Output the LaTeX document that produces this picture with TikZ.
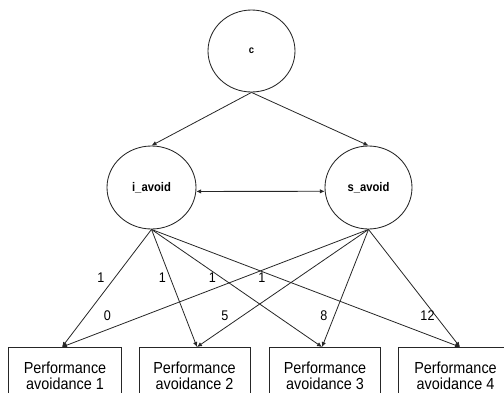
\documentclass[tikz,border=0pt]{standalone}
\usepackage{fontspec}
\setmainfont{Liberation Sans}
\newfontfamily\narrowsans[FakeStretch=0.9]{Liberation Sans}
\usetikzlibrary{shapes.geometric,arrows.meta,calc}
\begin{document}
\begin{tikzpicture}[x=1pt,y=-1pt,
  latent/.style={ellipse,draw=black!85,line width=0.85pt,inner sep=0pt,
    font=\narrowsans\bfseries\fontsize{12.5}{15}\selectfont},
  indicator/.style={rectangle,draw=black!85,line width=0.85pt,anchor=north,
    minimum width=111pt,minimum height=80pt,inner sep=0pt},
  boxline/.style={font=\narrowsans\fontsize{16}{19}\selectfont,anchor=base,inner sep=0pt},
  coef/.style={font=\narrowsans\fontsize{14}{16}\selectfont,inner sep=0pt},
  tip/.tip={Latex[length=5pt,width=4.5pt]},
  link/.style={draw=black!85,line width=0.8pt,-tip},
  ]
\useasboundingbox (0,0) rectangle (504,392);
\clip (0,0) rectangle (504,392);

% latent factors
\node[latent,minimum width=87pt,minimum height=82pt,
  font=\narrowsans\bfseries\fontsize{10.5}{12}\selectfont] (c) at (251.5,51) {c};
\node[latent,minimum width=89pt,minimum height=83pt] (ia) at (151.5,187.5) {i\_avoid};
\node[latent,minimum width=87pt,minimum height=83pt] (sa) at (368.5,187.5) {s\_avoid};

% observed indicators
\node[indicator,minimum width=113pt] (b1) at (64.5,347) {};
\node[indicator] (b2) at (194.5,347) {};
\node[indicator] (b3) at (324.5,347) {};
\node[indicator] (b4) at (453.5,347) {};

\node[boxline] (p1) at (65,373) {Performance};
\node[boxline] (a1) at (65,389) {avoidance 1};
\node[boxline] (p2) at (194.5,373) {Performance};
\node[boxline] (a2) at (194.5,389) {avoidance 2};
\node[boxline] (p3) at (325,373) {Performance};
\node[boxline] (a3) at (325,389) {avoidance 3};
\node[boxline] (p4) at (455.5,373) {Performance};
\node[boxline] (a4) at (455.5,389) {avoidance 4};

% arrow entry points on the indicator boxes
\coordinate (t1) at ($(b1.north)+(-2.5,0)$);
\coordinate (t2) at ($(b2.north)+(2.5,0)$);
\coordinate (t3) at ($(b3.north)+(-2.5,0)$);
\coordinate (t4) at ($(b4.north)+(6.5,0)$);

% paths
\draw[link] (c.south) -- (ia.north);
\draw[link] (c.south) -- (sa.north);
\draw[link,tip-tip] (ia.-5) -- (sa.185);
\foreach \i in {1,2,3,4}{
  \draw[link] (ia.south) -- (t\i);
  \draw[link] (sa.south) -- (t\i);
}

% loadings
\node[coef] (l1) at (101,278) {1};
\node[coef] (l2) at (162.5,278) {1};
\node[coef] (l3) at (212.5,278) {1};
\node[coef] (l4) at (262,278) {1};
\node[coef] (s1) at (107.5,316) {0};
\node[coef] (s2) at (225,316) {5};
\node[coef] (s3) at (324,316) {8};
\node[coef] (s4) at (427.5,316) {12};
\end{tikzpicture}
\end{document}
